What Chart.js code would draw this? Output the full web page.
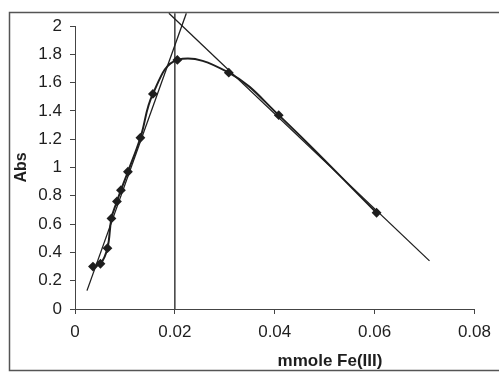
<!DOCTYPE html>
<html>
<head>
<meta charset="utf-8">
<script src="https://cdn.jsdelivr.net/npm/chart.js@4/dist/chart.umd.min.js"></script>
<style>
  body { margin: 0; background: #fff; }
</style>
</head>
<body>
<canvas id="chart" width="499" height="373"></canvas>
<script>
// measured absorbance vs. mmole Fe(III)
const feMmole = [0.0036, 0.0051, 0.0065, 0.0073, 0.0084, 0.0092, 0.0106, 0.0131, 0.0156, 0.0205, 0.0308, 0.0408, 0.0604]
const absValues = [0.30, 0.32, 0.43, 0.64, 0.76, 0.84, 0.97, 1.21, 1.52, 1.76, 1.67, 1.37, 0.68]

// tangent lines and the vertical drop at the intersection
const risingX = [0.0024, 0.0223]
const risingY = [0.13, 2.09]
const fallingX = [0.0188, 0.0710]
const fallingY = [2.09, 0.34]
const dropX = [0.02, 0.02]
const dropY = [0, 2.09]

const xTicks = [0, 0.02, 0.04, 0.06, 0.08]
const yTicks = [0, 0.2, 0.4, 0.6, 0.8, 1, 1.2, 1.4, 1.6, 1.8, 2]

const ink = '#1e1e1e'
const fontFamily = '"Liberation Sans", Arial, sans-serif'

function toPoints(xs, ys) {
  return xs.map((x, i) => ({ x: x, y: ys[i] }))
}

function lineSet(data, width) {
  return {
    data: data,
    showLine: true,
    borderColor: ink,
    borderWidth: width,
    pointRadius: 0,
    clip: false
  }
}

// plain number labels, "1" not "1.0"
function plainLabel(value) {
  return String(+value.toFixed(2))
}

// frame around the whole chart + the x title (sits right of centre in the original)
const framePlugin = {
  id: 'frame',
  afterDraw(chart) {
    const ctx = chart.ctx
    ctx.save()
    ctx.strokeStyle = '#555'
    ctx.lineWidth = 1.5
    ctx.strokeRect(9.5, 12.5, 520, 358)
    ctx.fillStyle = ink
    ctx.font = 'bold 17px ' + fontFamily
    ctx.textAlign = 'center'
    ctx.textBaseline = 'alphabetic'
    ctx.fillText('mmole Fe(III)', 330, 366)
    ctx.restore()
  }
}

new Chart(document.getElementById('chart'), {
  type: 'scatter',
  data: {
    datasets: [
      {
        data: toPoints(feMmole, absValues),
        showLine: true,
        tension: 0.4,
        borderColor: ink,
        borderWidth: 2,
        pointStyle: 'rectRot',
        pointRadius: 3.5,
        pointBackgroundColor: ink,
        pointBorderColor: ink,
        clip: false
      },
      lineSet(toPoints(risingX, risingY), 1.3),
      lineSet(toPoints(fallingX, fallingY), 1.3),
      lineSet(toPoints(dropX, dropY), 1.3)
    ]
  },
  options: {
    responsive: false,
    devicePixelRatio: 1,
    animation: false,
    layout: { padding: { left: 12, right: 18, top: 26, bottom: 0 } },
    plugins: {
      legend: { display: false },
      tooltip: { enabled: false }
    },
    scales: {
      x: {
        type: 'linear',
        min: 0,
        max: 0.08,
        afterBuildTicks(scale) { scale.ticks = xTicks.map(v => ({ value: v })) },
        afterFit(scale) { scale.height = 64 },
        ticks: {
          color: ink,
          padding: 8,
          maxRotation: 0,
          callback: plainLabel,
          font: { family: fontFamily, size: 17 }
        },
        grid: { drawOnChartArea: false, tickLength: 5, color: '#444', lineWidth: 1 },
        border: { color: '#444', width: 1 }
      },
      y: {
        min: 0,
        max: 2,
        afterBuildTicks(scale) { scale.ticks = yTicks.map(v => ({ value: v })) },
        afterFit(scale) { scale.width = 63 },
        title: {
          display: true,
          text: 'Abs',
          color: ink,
          padding: 0,
          font: { family: fontFamily, size: 16, weight: 'bold' }
        },
        ticks: {
          color: ink,
          padding: 8,
          callback: plainLabel,
          font: { family: fontFamily, size: 17 }
        },
        grid: { drawOnChartArea: false, tickLength: 5, color: '#444', lineWidth: 1 },
        border: { color: '#444', width: 1 }
      }
    }
  },
  plugins: [framePlugin]
})
</script>
</body>
</html>
